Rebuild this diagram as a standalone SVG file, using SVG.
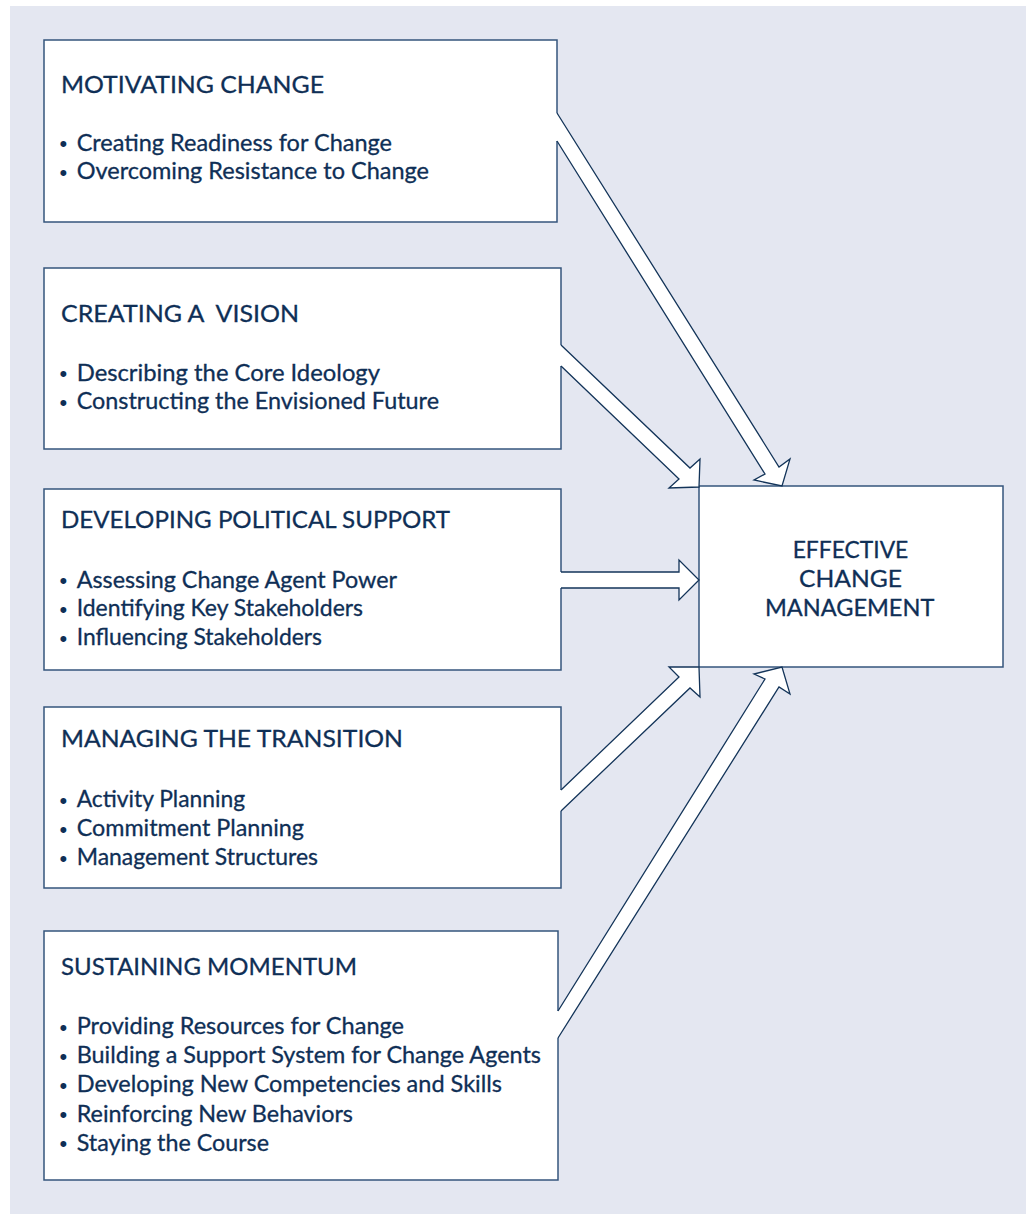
<svg xmlns="http://www.w3.org/2000/svg" width="1026" height="1214" viewBox="0 0 1026 1214">
  <style>
    .box { fill: #ffffff; stroke: #34557c; stroke-width: 1.5; }
    .arrow-fill { fill: #ffffff; stroke: none; }
    .arrow-line { fill: none; stroke: #133459; stroke-width: 1.3; stroke-linejoin: miter; }
    .h { font-family: Lato, "Liberation Sans", sans-serif; font-size: 24px; fill: #0f2f56; stroke: #0f2f56; stroke-width: 0.3; white-space: pre; }
    .b { font-family: Lato, "Liberation Sans", sans-serif; font-size: 23px; fill: #0f2f56; stroke: #0f2f56; stroke-width: 0.3; white-space: pre; }
    .dot { font-family: "Liberation Sans", sans-serif; font-size: 22px; fill: #0f2f56; }
  </style>
  <rect x="0" y="0" width="1026" height="1214" fill="#ffffff"/>
  <rect x="10" y="6" width="1016" height="1208" fill="#e4e7f1"/>

  <g id="node-motivating">
    <rect class="box" x="44" y="40" width="513" height="182"/>
    <text class="h" x="61" y="92.7" textLength="263" lengthAdjust="spacingAndGlyphs">MOTIVATING CHANGE</text>
    <text class="dot" x="59.5" y="151.2">•</text>
    <text class="b" x="76.7" y="150.7" textLength="315.3" lengthAdjust="spacingAndGlyphs">Creating Readiness for Change</text>
    <text class="dot" x="59.5" y="179.8">•</text>
    <text class="b" x="76.7" y="179.3" textLength="352.3" lengthAdjust="spacingAndGlyphs">Overcoming Resistance to Change</text>
  </g>

  <g id="node-vision">
    <rect class="box" x="44" y="268" width="517" height="181"/>
    <text class="h" x="61" y="321.7" textLength="238" lengthAdjust="spacingAndGlyphs">CREATING A  VISION</text>
    <text class="dot" x="59.5" y="381.2">•</text>
    <text class="b" x="76.7" y="380.7" textLength="303.3" lengthAdjust="spacingAndGlyphs">Describing the Core Ideology</text>
    <text class="dot" x="59.5" y="409.5">•</text>
    <text class="b" x="76.7" y="409" textLength="362.3" lengthAdjust="spacingAndGlyphs">Constructing the Envisioned Future</text>
  </g>

  <g id="node-political">
    <rect class="box" x="44" y="489" width="517" height="181"/>
    <text class="h" x="61" y="528.3" textLength="389" lengthAdjust="spacingAndGlyphs">DEVELOPING POLITICAL SUPPORT</text>
    <text class="dot" x="59.5" y="588.2">•</text>
    <text class="b" x="76.7" y="587.7" textLength="320.3" lengthAdjust="spacingAndGlyphs">Assessing Change Agent Power</text>
    <text class="dot" x="59.5" y="616.5">•</text>
    <text class="b" x="76.7" y="616" textLength="286.3" lengthAdjust="spacingAndGlyphs">Identifying Key Stakeholders</text>
    <text class="dot" x="59.5" y="645.5">•</text>
    <text class="b" x="76.7" y="645" textLength="245.3" lengthAdjust="spacingAndGlyphs">Influencing Stakeholders</text>
  </g>

  <g id="node-transition">
    <rect class="box" x="44" y="707" width="517" height="181"/>
    <text class="h" x="61" y="747.3" textLength="342" lengthAdjust="spacingAndGlyphs">MANAGING THE TRANSITION</text>
    <text class="dot" x="59.5" y="807.8">•</text>
    <text class="b" x="76.7" y="807.3" textLength="168.3" lengthAdjust="spacingAndGlyphs">Activity Planning</text>
    <text class="dot" x="59.5" y="836.5">•</text>
    <text class="b" x="76.7" y="836" textLength="227.3" lengthAdjust="spacingAndGlyphs">Commitment Planning</text>
    <text class="dot" x="59.5" y="865.5">•</text>
    <text class="b" x="76.7" y="865" textLength="241.3" lengthAdjust="spacingAndGlyphs">Management Structures</text>
  </g>

  <g id="node-momentum">
    <rect class="box" x="44" y="931" width="514" height="249"/>
    <text class="h" x="61" y="975" textLength="296" lengthAdjust="spacingAndGlyphs">SUSTAINING MOMENTUM</text>
    <text class="dot" x="59.5" y="1034.8">•</text>
    <text class="b" x="76.7" y="1034.3" textLength="327.3" lengthAdjust="spacingAndGlyphs">Providing Resources for Change</text>
    <text class="dot" x="59.5" y="1063.8">•</text>
    <text class="b" x="76.7" y="1063.3" textLength="464.3" lengthAdjust="spacingAndGlyphs">Building a Support System for Change Agents</text>
    <text class="dot" x="59.5" y="1092.8">•</text>
    <text class="b" x="76.7" y="1092.3" textLength="425.3" lengthAdjust="spacingAndGlyphs">Developing New Competencies and Skills</text>
    <text class="dot" x="59.5" y="1122.2">•</text>
    <text class="b" x="76.7" y="1121.7" textLength="276.3" lengthAdjust="spacingAndGlyphs">Reinforcing New Behaviors</text>
    <text class="dot" x="59.5" y="1151.2">•</text>
    <text class="b" x="76.7" y="1150.7" textLength="192.3" lengthAdjust="spacingAndGlyphs">Staying the Course</text>
  </g>

  <g id="node-effective">
    <rect class="box" x="699" y="486" width="304" height="181"/>
    <text class="b" x="792.7" y="557.7" textLength="115.6" lengthAdjust="spacingAndGlyphs">EFFECTIVE</text>
    <text class="b" x="799" y="586.7" textLength="103" lengthAdjust="spacingAndGlyphs">CHANGE</text>
    <text class="b" x="765" y="615.7" textLength="169.3" lengthAdjust="spacingAndGlyphs">MANAGEMENT</text>
  </g>

  <g id="connectors">
    <!-- motivating -> effective -->
    <polygon class="arrow-fill" points="555,113 557,113 779,467 790,459 782,486 754,480 765,474 557,141 555,141"/>
    <polyline class="arrow-line" points="557,113 779,467 790,459 782,486 754,480 765,474 557,141"/>
    <!-- vision -> effective -->
    <polygon class="arrow-fill" points="559,345 561,345 690,468 700,459 699,487 669,488 679,479 561,366 559,366"/>
    <polyline class="arrow-line" points="561,345 690,468 700,459 699,487 669,488 679,479 561,366"/>
    <!-- political -> effective -->
    <polygon class="arrow-fill" points="559,572 679,572 679,560 699,580 679,600 679,588 559,588"/>
    <polyline class="arrow-line" points="561,572 679,572 679,560 699,580 679,600 679,588 561,588"/>
    <!-- transition -> effective -->
    <polygon class="arrow-fill" points="559,790 561,790 679,677 669,667 699,667 700,697 690,688 561,811 559,811"/>
    <polyline class="arrow-line" points="561,790 679,677 669,667 699,667 700,697 690,688 561,811"/>
    <!-- momentum -> effective -->
    <polygon class="arrow-fill" points="556,1011 558,1011 765,679 754,674 782,667 790,694 779,687 558,1038 556,1038"/>
    <polyline class="arrow-line" points="558,1011 765,679 754,674 782,667 790,694 779,687 558,1038"/>
  </g>
</svg>
